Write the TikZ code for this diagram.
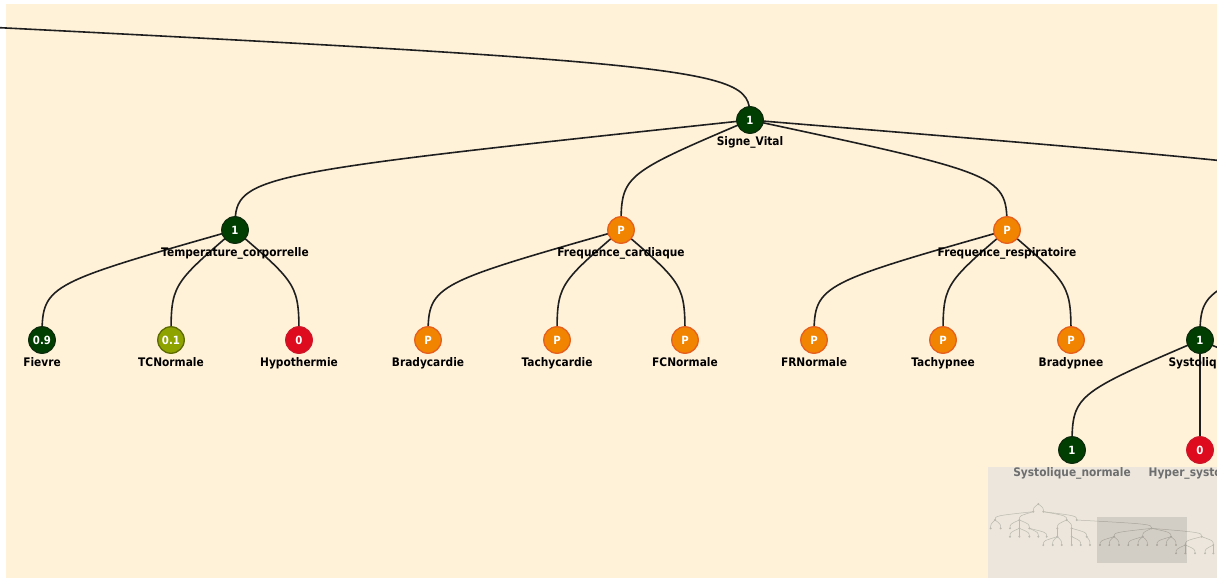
\documentclass[tikz,border=0pt]{standalone}
\usepackage{fontspec}
\usetikzlibrary{calc}
\newfontfamily\labfont[FakeStretch=0.9]{DejaVu Sans}
\definecolor{cream}{RGB}{255,242,217}
\definecolor{dgreen}{RGB}{1,62,1}
\definecolor{dgreenb}{RGB}{12,44,12}
\definecolor{olivec}{RGB}{143,163,0}
\definecolor{oliveb}{RGB}{92,106,0}
\definecolor{nred}{RGB}{222,10,30}
\definecolor{nredb}{RGB}{205,22,40}
\definecolor{norange}{RGB}{241,132,0}
\definecolor{norangeb}{RGB}{230,95,30}
\definecolor{ovl}{RGB}{218,220,223}
\definecolor{mini}{RGB}{188,185,176}
\pgfdeclarelayer{bg}
\pgfdeclarelayer{lines}
\pgfsetlayers{bg,lines,main}
\tikzset{
  tnode/.style={circle,minimum size=26.5pt,inner sep=0pt,line width=1.3pt,text=white,
    font=\labfont\bfseries\fontsize{11.3}{11}\selectfont},
  gnode/.style={tnode,fill=dgreen,draw=dgreenb},
  olnode/.style={tnode,fill=olivec,draw=oliveb},
  rnode/.style={tnode,fill=nred,draw=nredb},
  onode/.style={tnode,fill=norange,draw=norangeb},
  lab/.style={anchor=base,inner sep=0pt,text=black,
    font=\labfont\bfseries\fontsize{11.8}{13}\selectfont},
  link/.style={line width=1.6pt,draw=black!88},
  mlinkst/.style={line width=0.5pt,draw=mini},
  mnode/.style={circle,fill=mini,inner sep=0pt,minimum size=2.2pt},
}
\newcommand\tlink[2]{%
  \path ($(#1.center)!0.5!(#2.center)$) coordinate (mid);
  \begin{pgfonlayer}{lines}
  \draw[link] (#1.center) .. controls (#2.center |- mid) and (#2.center |- mid) .. (#2.center);
  \end{pgfonlayer}}
\newcommand\mlink[2]{%
  \path ($(#1.center)!0.5!(#2.center)$) coordinate (mid);
  \draw[mlinkst] (#1.center) .. controls (#2.center |- mid) and (#2.center |- mid) .. (#2.center);}
\begin{document}
\begin{tikzpicture}[x=1pt,y=-1pt]
\useasboundingbox (0,0) rectangle (1217,578);
\begin{pgfonlayer}{bg}
\fill[white] (0,0) rectangle (1217,578);
\fill[cream] (6,4) rectangle (1217,578);
\end{pgfonlayer}

% off-screen ends
\coordinate (r0) at (-353,10);
\coordinate (pa) at (1420,230);
\coordinate (sx) at (1328,450);

% nodes
\node[gnode] (sv) at (750,120) {1};
\node[lab] (svl) at (750,145) {Signe\_Vital};

\node[gnode] (tc) at (235,230) {1};
\node[lab] (tcl) at (235,256) {Temperature\_corporrelle};
\node[onode] (fc) at (621,230) {P};
\node[lab] (fcl) at (621,256) {Frequence\_cardiaque};
\node[onode] (fr) at (1007,230) {P};
\node[lab] (frl) at (1007,256) {Frequence\_respiratoire};

\node[gnode] (fi) at (42,340) {0.9};
\node[lab] (fil) at (42,366) {Fievre};
\node[olnode] (tn) at (171,340) {0.1};
\node[lab] (tnl) at (171,366) {TCNormale};
\node[rnode] (hy) at (299,340) {0};
\node[lab] (hyl) at (299,366) {Hypothermie};
\node[onode] (br) at (428,340) {P};
\node[lab] (brl) at (428,366) {Bradycardie};
\node[onode] (ta) at (557,340) {P};
\node[lab] (tal) at (557,366) {Tachycardie};
\node[onode] (fn) at (685,340) {P};
\node[lab] (fnl) at (685,366) {FCNormale};
\node[onode] (frn) at (814,340) {P};
\node[lab] (frnl) at (814,366) {FRNormale};
\node[onode] (tp) at (943,340) {P};
\node[lab] (tpl) at (943,366) {Tachypnee};
\node[onode] (bp) at (1071,340) {P};
\node[lab] (bpl) at (1071,366) {Bradypnee};
\node[gnode] (sy) at (1200,340) {1};
\node[lab] (syl) at (1200,366) {Systolique};

\node[gnode] (sn) at (1072,450) {1};
\node[lab] (snl) at (1072,476) {Systolique\_normale};
\node[rnode] (hs) at (1200,450) {0};
\node[lab] (hsl) at (1200,476) {Hyper\_systolique};

% links
\tlink{r0}{sv}
\tlink{sv}{tc}\tlink{sv}{fc}\tlink{sv}{fr}\tlink{sv}{pa}
\tlink{tc}{fi}\tlink{tc}{tn}\tlink{tc}{hy}
\tlink{fc}{br}\tlink{fc}{ta}\tlink{fc}{fn}
\tlink{fr}{frn}\tlink{fr}{tp}\tlink{fr}{bp}
\tlink{pa}{sy}
\tlink{sy}{sn}\tlink{sy}{hs}\tlink{sy}{sx}

% minimap
\fill[ovl,opacity=0.5] (988,467) rectangle (1217,578);
\begin{scope}[shift={(980,430)},scale=1/3]
\foreach \n/\x/\y in {m0/175/222,
  ma/160/245,mb/190/245,
  mc1/45/270,mc2/118/270,mc3/260/270,mc4/290/270,
  md1/32/295,md2/62/295,md3/90/295,md4/118/295,md5/148/295,md6/232/295,md7/275/295,msv/515/295,
  me1/90/320,me2/118/320,me3/148/320,me4/175/320,me5/200/320,me6/232/320,me7/275/320,me8/320/320,
  mf1/402/320,mf2/488/320,mf3/573/320,mf4/665/320,
  mg1/190/345,mg2/218/345,mg3/245/345,mg4/275/345,mg5/302/345,mg6/330/345,
  mh1/360/345,mh2/388/345,mh3/417/345,mh4/445/345,mh5/474/345,mh6/502/345,
  mh7/531/345,mh8/559/345,mh9/588/345,mh10/616/345,mh11/700/345,
  mi1/588/370,mi2/616/370,mi3/645/370,mi4/675/370,mi5/700/370}
  {\node[mnode] (\n) at (\x,\y) {};}
\foreach \a/\b in {m0/ma,m0/mb,ma/mc1,ma/mc2,mb/mc3,mb/mc4,
  mc1/md1,mc1/md2,mc2/md3,mc2/md4,mc2/md5,mc3/md6,mc3/md7,mc4/msv,
  md4/me1,md4/me2,md4/me3,md5/me4,md5/me5,md6/me6,md7/me7,md7/me8,
  msv/mf1,msv/mf2,msv/mf3,msv/mf4,
  me6/mg1,me6/mg2,me6/mg3,me7/mg4,me7/mg5,me8/mg6,
  mf1/mh1,mf1/mh2,mf1/mh3,mf2/mh4,mf2/mh5,mf2/mh6,mf3/mh7,mf3/mh8,mf3/mh9,
  mf4/mh10,mf4/mh11,mh10/mi1,mh10/mi2,mh10/mi3,mh11/mi4,mh11/mi5}
  {\mlink{\a}{\b}}
\end{scope}
\fill[black,opacity=0.1] (1097,517) rectangle (1187,563);
\end{tikzpicture}
\end{document}
